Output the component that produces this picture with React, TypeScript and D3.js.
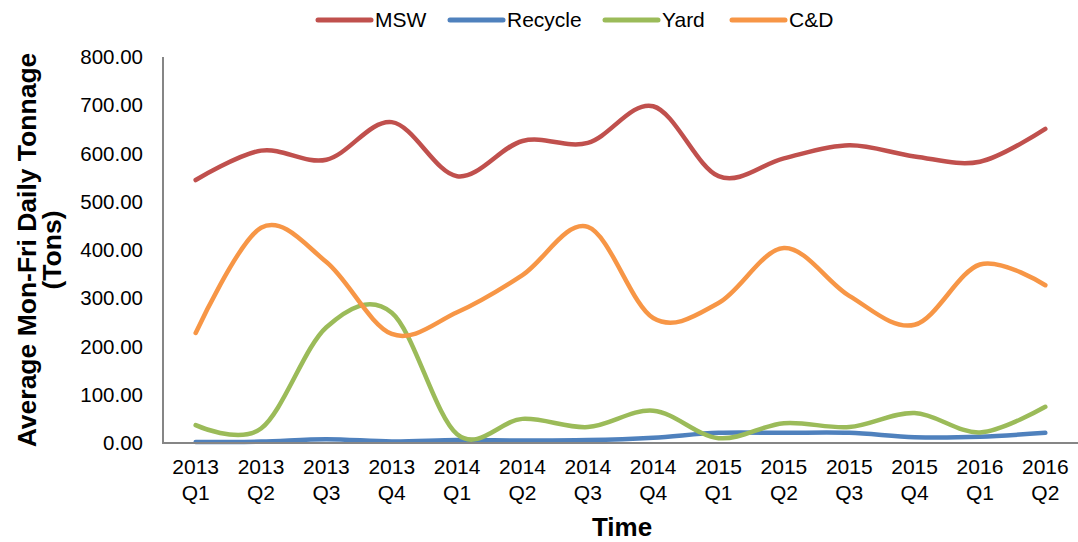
import React, { useRef, useEffect } from 'react';
import * as d3 from 'd3';

const quarters = [
    '2013 Q1', '2013 Q2', '2013 Q3', '2013 Q4',
    '2014 Q1', '2014 Q2', '2014 Q3', '2014 Q4',
    '2015 Q1', '2015 Q2', '2015 Q3', '2015 Q4',
    '2016 Q1', '2016 Q2',
];
const msw = [545, 606, 587, 665, 553, 626, 622, 698, 553, 590, 617, 594, 583, 651];
const recycle = [2, 3, 8, 3, 6, 5, 6, 11, 21, 21, 21, 12, 13, 21];
const yard = [37, 30, 240, 270, 18, 50, 33, 67, 10, 41, 33, 62, 22, 75];
const cd = [228, 446, 375, 226, 271, 348, 448, 259, 290, 404, 305, 245, 370, 327];
const yTicks = [0, 100, 200, 300, 400, 500, 600, 700, 800];

const series = [
    { name: 'MSW', values: msw, color: '#C0504D' },
    { name: 'Recycle', values: recycle, color: '#4F81BD' },
    { name: 'Yard', values: yard, color: '#9BBB59' },
    { name: 'C&D', values: cd, color: '#F79646' },
];

const TonnageChart: React.FC = () => {
    const ref = useRef<SVGSVGElement>(null);

    useEffect(() => {
        if (!ref.current) return;
        const svg = d3.select(ref.current);
        svg.selectAll('*').remove();

        const width = 1078;
        const height = 542;
        const margin = { top: 57, right: 0, bottom: 99, left: 163 };
        const innerWidth = width - margin.left - margin.right;
        const innerHeight = height - margin.top - margin.bottom;
        const font = '"Liberation Sans", Arial, sans-serif';

        const g = svg.append('g').attr('transform', `translate(${margin.left},${margin.top})`);

        const x = d3.scaleBand().domain(quarters).range([0, innerWidth]);
        const y = d3.scaleLinear().domain([0, 800]).range([innerHeight, 0]);

        // y axis labels
        g.selectAll('.ytick')
            .data(yTicks)
            .enter()
            .append('text')
            .attr('x', -20)
            .attr('y', d => y(d))
            .attr('dy', '0.35em')
            .attr('text-anchor', 'end')
            .style('font-family', font)
            .style('font-size', '20.5px')
            .attr('fill', '#000')
            .text(d => d3.format('.2f')(d));

        // x axis labels, two lines
        const xl = g.selectAll('.xtick')
            .data(quarters)
            .enter()
            .append('text')
            .attr('text-anchor', 'middle')
            .style('font-family', font)
            .style('font-size', '21px')
            .attr('fill', '#000');
        xl.append('tspan')
            .attr('x', d => (x(d) as number) + x.bandwidth() / 2)
            .attr('y', innerHeight + 31)
            .text(d => d.split(' ')[0]);
        xl.append('tspan')
            .attr('x', d => (x(d) as number) + x.bandwidth() / 2)
            .attr('y', innerHeight + 57)
            .text(d => d.split(' ')[1]);

        const line = d3.line<number>()
            .x((d, i) => (x(quarters[i]) as number) + x.bandwidth() / 2)
            .y(d => y(d))
            .curve(d3.curveCatmullRom.alpha(0));

        series.forEach(s => {
            g.append('path')
                .datum(s.values)
                .attr('fill', 'none')
                .attr('stroke', s.color)
                .attr('stroke-width', 4.5)
                .attr('stroke-linecap', 'round')
                .attr('d', line);
        });

        // axis lines
        g.append('line')
            .attr('x1', 0).attr('x2', 0)
            .attr('y1', 0).attr('y2', innerHeight)
            .attr('stroke', '#868686').attr('stroke-width', 2);
        g.append('line')
            .attr('x1', -1).attr('x2', innerWidth)
            .attr('y1', innerHeight).attr('y2', innerHeight)
            .attr('stroke', '#868686').attr('stroke-width', 2);

        // axis titles
        svg.append('text')
            .attr('x', 622)
            .attr('y', 536)
            .attr('text-anchor', 'middle')
            .style('font-family', font)
            .style('font-size', '26px')
            .style('font-weight', 'bold')
            .text('Time');

        const yt = svg.append('text')
            .attr('transform', `translate(27,250) rotate(-90)`)
            .attr('text-anchor', 'middle')
            .style('font-family', font)
            .style('font-size', '26.5px')
            .style('font-weight', 'bold');
        yt.append('tspan').attr('x', 0).attr('y', 0).attr('dy', '0.35em').text('Average Mon-Fri Daily Tonnage');
        yt.append('tspan').attr('x', 0).attr('y', 25).attr('dy', '0.35em').text('(Tons)');

        // legend
        const legendX = [318, 450, 605, 732];
        const legend = svg.selectAll('.legend')
            .data(series)
            .enter()
            .append('g')
            .attr('transform', (d, i) => `translate(${legendX[i]},20)`);
        legend.append('line')
            .attr('x1', 0).attr('x2', 53)
            .attr('y1', 0).attr('y2', 0)
            .attr('stroke', d => d.color)
            .attr('stroke-width', 5)
            .attr('stroke-linecap', 'round');
        legend.append('text')
            .attr('x', 57)
            .attr('dy', '0.35em')
            .style('font-family', font)
            .style('font-size', '21px')
            .text(d => d.name);
    }, []);

    return <svg ref={ref} width={1078} height={542} style={{ display: 'block' }} />;
};

export default function App() {
    useEffect(() => {
        document.body.style.margin = '0';
    }, []);
    return <TonnageChart />;
}
